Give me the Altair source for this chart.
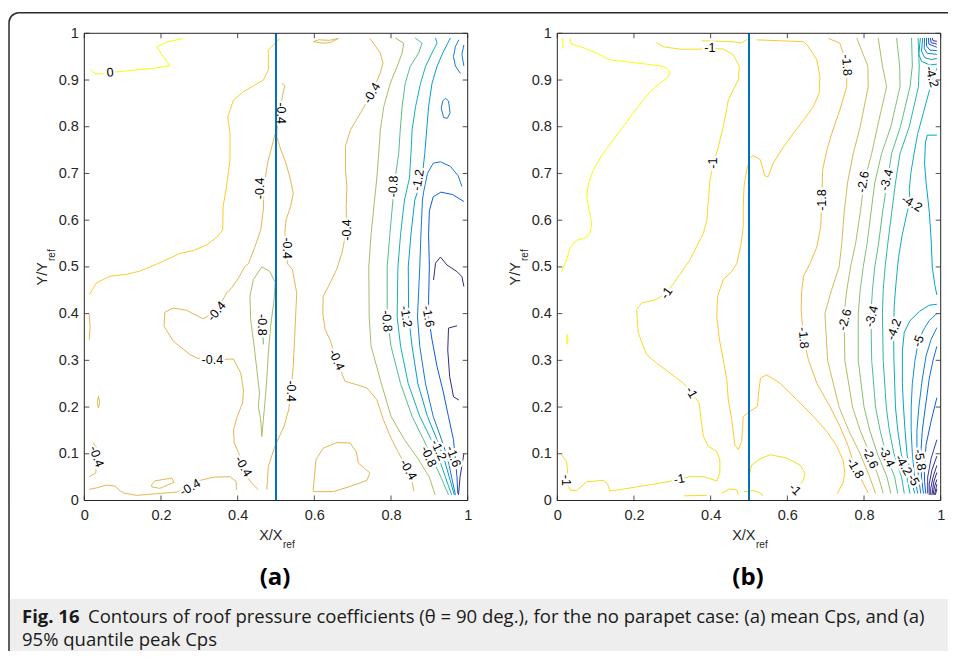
import altair as alt
import pandas as pd

# ---------------- layout (view pixels) ----------------
W, H = 940, 643
AXR = [76.3, 459.7]     # panel (a) x range
BXR = [549.3, 932.7]    # panel (b) x range
YR = [492.5, 25.3]      # y range (both panels)
TICK_FONT = "Liberation Sans"

# ---------------- parula colormap (style) ----------------
PARULA = [
    (0.2081, 0.1663, 0.5292), (0.2116, 0.1898, 0.5777), (0.2123, 0.2138, 0.6270), (0.2081, 0.2386, 0.6771),
    (0.1959, 0.2645, 0.7279), (0.1707, 0.2919, 0.7792), (0.1253, 0.3242, 0.8303), (0.0591, 0.3598, 0.8683),
    (0.0117, 0.3875, 0.8820), (0.0060, 0.4086, 0.8828), (0.0165, 0.4266, 0.8786), (0.0329, 0.4430, 0.8720),
    (0.0498, 0.4586, 0.8641), (0.0629, 0.4737, 0.8554), (0.0723, 0.4887, 0.8467), (0.0779, 0.5040, 0.8384),
    (0.0793, 0.5200, 0.8312), (0.0749, 0.5375, 0.8263), (0.0641, 0.5570, 0.8240), (0.0488, 0.5772, 0.8228),
    (0.0343, 0.5966, 0.8199), (0.0265, 0.6137, 0.8135), (0.0239, 0.6287, 0.8038), (0.0231, 0.6418, 0.7913),
    (0.0228, 0.6535, 0.7768), (0.0267, 0.6642, 0.7607), (0.0384, 0.6743, 0.7436), (0.0590, 0.6838, 0.7254),
    (0.0843, 0.6928, 0.7062), (0.1133, 0.7015, 0.6859), (0.1453, 0.7098, 0.6646), (0.1801, 0.7177, 0.6424),
    (0.2178, 0.7250, 0.6193), (0.2586, 0.7317, 0.5954), (0.3022, 0.7376, 0.5712), (0.3482, 0.7424, 0.5473),
    (0.3953, 0.7459, 0.5244), (0.4420, 0.7481, 0.5033), (0.4871, 0.7491, 0.4840), (0.5300, 0.7491, 0.4661),
    (0.5709, 0.7485, 0.4494), (0.6099, 0.7473, 0.4337), (0.6473, 0.7456, 0.4188), (0.6834, 0.7435, 0.4044),
    (0.7184, 0.7411, 0.3905), (0.7525, 0.7384, 0.3768), (0.7858, 0.7356, 0.3633), (0.8185, 0.7327, 0.3498),
    (0.8507, 0.7299, 0.3360), (0.8824, 0.7274, 0.3217), (0.9139, 0.7258, 0.3063), (0.9450, 0.7261, 0.2886),
    (0.9739, 0.7314, 0.2666), (0.9938, 0.7455, 0.2403), (0.9990, 0.7653, 0.2164), (0.9955, 0.7861, 0.1967),
    (0.9880, 0.8066, 0.1794), (0.9789, 0.8271, 0.1633), (0.9697, 0.8481, 0.1475), (0.9626, 0.8705, 0.1309),
    (0.9589, 0.8949, 0.1132), (0.9598, 0.9218, 0.0948), (0.9661, 0.9514, 0.0755), (0.9763, 0.9831, 0.0538),
]


def parula_hex(idx):
    idx = int(max(0, min(63, round(idx))))
    r, g, b = PARULA[idx]
    return "#%02x%02x%02x" % (int(r * 255), int(g * 255), int(b * 255))


def color_a(level):
    return parula_hex(63 + 35 * level)


def color_b(level):
    return parula_hex(63 - (-0.6 - level) / 0.4 * 4)


# ---------------- panel (a): mean Cp contours ----------------
A_ZERO = [(0.257, 0.989), (0.215, 0.981), (0.189, 0.971), (0.206, 0.950), (0.223, 0.931), (0.180, 0.925),
          (0.128, 0.921), (0.089, 0.918), (0.067, 0.916), (0.041, 0.913), (0.028, 0.913), (0.015, 0.923)]
A_M02 = [(0.013, 0.441), (0.032, 0.466), (0.067, 0.48), (0.11, 0.484), (0.145, 0.491), (0.189, 0.506),
         (0.25, 0.529), (0.284, 0.535), (0.319, 0.547), (0.345, 0.563), (0.361, 0.579), (0.362, 0.629),
         (0.371, 0.672), (0.38, 0.729), (0.38, 0.786), (0.374, 0.821), (0.389, 0.857), (0.415, 0.875),
         (0.467, 0.9), (0.48, 0.921), (0.48, 0.964), (0.51, 0.989)]
A_M04_C1 = [(0.515, 0.893), (0.523, 0.888), (0.519, 0.875), (0.515, 0.857), (0.513, 0.829), (0.503, 0.797),
            (0.502, 0.779), (0.510, 0.757), (0.526, 0.722), (0.538, 0.686), (0.545, 0.657), (0.538, 0.629),
            (0.526, 0.600), (0.523, 0.572), (0.528, 0.54), (0.530, 0.507), (0.543, 0.494), (0.554, 0.444),
            (0.550, 0.373), (0.545, 0.287), (0.539, 0.234), (0.533, 0.194), (0.521, 0.159), (0.497, 0.116),
            (0.480, 0.073), (0.476, 0.023)]
A_M04_C2 = [(0.498, 0.786), (0.489, 0.757), (0.478, 0.722), (0.468, 0.668), (0.467, 0.622), (0.46, 0.579),
            (0.445, 0.543), (0.428, 0.507), (0.419, 0.501), (0.402, 0.476), (0.384, 0.455), (0.371, 0.444),
            (0.345, 0.405), (0.31, 0.389), (0.267, 0.407), (0.232, 0.412), (0.21, 0.403), (0.208, 0.373),
            (0.232, 0.341), (0.276, 0.312), (0.297, 0.304), (0.334, 0.301), (0.389, 0.303), (0.408, 0.273),
            (0.415, 0.237), (0.413, 0.209), (0.399, 0.18), (0.389, 0.151), (0.391, 0.123), (0.402, 0.103),
            (0.415, 0.073), (0.432, 0.041), (0.454, 0.023)]
A_M04_E = [(0.745, 0.989), (0.772, 0.958), (0.779, 0.936), (0.772, 0.915), (0.75, 0.872), (0.72, 0.829),
           (0.694, 0.793), (0.681, 0.758), (0.681, 0.708), (0.685, 0.672), (0.683, 0.629), (0.684, 0.579),
           (0.672, 0.53), (0.658, 0.494), (0.637, 0.459), (0.623, 0.437), (0.622, 0.401), (0.628, 0.366),
           (0.641, 0.344), (0.658, 0.301), (0.68, 0.255), (0.71, 0.248), (0.737, 0.241), (0.763, 0.216),
           (0.78, 0.173), (0.802, 0.13), (0.819, 0.103), (0.845, 0.066), (0.855, 0.04), (0.86, 0.02)]
A_M04_F = [(0.597, 0.021), (0.604, 0.087), (0.623, 0.112), (0.658, 0.124), (0.693, 0.123), (0.709, 0.105),
           (0.715, 0.080), (0.745, 0.059), (0.737, 0.043), (0.693, 0.03), (0.65, 0.019), (0.597, 0.019)]
A_M04_G = [(0.598, 0.982), (0.62, 0.979), (0.641, 0.98), (0.663, 0.989), (0.64, 0.985), (0.61, 0.986), (0.598, 0.982)]
A_M04_BOT = [(0.013, 0.024), (0.032, 0.027), (0.058, 0.033), (0.08, 0.031), (0.093, 0.021), (0.103, 0.016),
             (0.137, 0.011), (0.18, 0.014), (0.241, 0.018), (0.276, 0.028), (0.302, 0.043), (0.337, 0.05),
             (0.38, 0.051), (0.396, 0.041), (0.397, 0.023)]
A_M04_LOOP = [(0.176, 0.034), (0.184, 0.042), (0.228, 0.048), (0.234, 0.039), (0.197, 0.026), (0.176, 0.029), (0.176, 0.034)]
A_M04_LEFT = [(0.013, 0.051), (0.03, 0.059), (0.032, 0.094), (0.03, 0.116), (0.023, 0.124)]
A_M04_DOT = [(0.037, 0.223), (0.04, 0.21), (0.037, 0.198), (0.034, 0.21), (0.037, 0.223)]
A_M04_EDGE = [(0.013, 0.398), (0.015, 0.37), (0.013, 0.344)]
A_M06_LEAF = [(0.463, 0.5), (0.483, 0.491), (0.498, 0.467), (0.495, 0.43), (0.486, 0.373), (0.48, 0.316),
              (0.476, 0.259), (0.471, 0.209), (0.467, 0.173), (0.463, 0.137), (0.46, 0.173), (0.454, 0.201),
              (0.457, 0.23), (0.45, 0.28), (0.443, 0.33), (0.434, 0.387), (0.432, 0.437), (0.441, 0.473), (0.463, 0.5)]
A_M08_TINY = [(0.465, 0.362), (0.467, 0.334)]

A_RIGHT_Y = [0.99, 0.979, 0.958, 0.929, 0.893, 0.843, 0.793, 0.743, 0.69, 0.643, 0.57, 0.5, 0.393, 0.33,
             0.25, 0.18, 0.13, 0.09, 0.05, 0.012]
A_M06_X = [0.811, 0.833, 0.829, 0.816, 0.798, 0.781, 0.772, 0.768, 0.763, 0.757, 0.748, 0.742, 0.743, 0.748,
           0.775, 0.80, 0.835, 0.87, 0.90, 0.915]
A_M08_X = [0.863, 0.881, 0.872, 0.85, 0.837, 0.829, 0.824, 0.82, 0.811, 0.805, 0.797, 0.79, 0.79, 0.80,
           0.825, 0.855, 0.885, 0.908, 0.93, 0.95]
A_M10_X = [0.916, 0.92, 0.907, 0.89, 0.877, 0.864, 0.855, 0.852, 0.848, 0.835, 0.825, 0.818, 0.816, 0.825,
           0.845, 0.875, 0.905, 0.925, 0.942, 0.958]
A_M12_X = [0.955, 0.948, 0.935, 0.92, 0.907, 0.898, 0.893, 0.888, 0.881, 0.862, 0.852, 0.845, 0.846, 0.855,
           0.87, 0.895, 0.92, 0.938, 0.952, 0.965]
A_M14 = [(0.985, 0.672), (0.975, 0.695), (0.955, 0.715), (0.929, 0.725), (0.91, 0.722), (0.895, 0.70),
         (0.885, 0.66), (0.882, 0.643), (0.878, 0.57), (0.875, 0.5), (0.869, 0.393), (0.875, 0.33), (0.89, 0.25),
         (0.91, 0.18), (0.932, 0.13), (0.948, 0.09), (0.958, 0.05), (0.968, 0.012)]
A_M14_LOOP = [(0.935, 0.855), (0.942, 0.861), (0.95, 0.855), (0.954, 0.83), (0.947, 0.818), (0.937, 0.82),
              (0.931, 0.84), (0.935, 0.855)]
A_M14_TOP = [(0.977, 0.986), (0.968, 0.972), (0.963, 0.950), (0.968, 0.93), (0.981, 0.914)]
A_M14_EDGE = [(0.99, 0.975), (0.985, 0.955), (0.99, 0.93)]
A_M16 = [(0.99, 0.64), (0.96, 0.655), (0.93, 0.66), (0.91, 0.65), (0.90, 0.62), (0.898, 0.57), (0.90, 0.5),
         (0.898, 0.43), (0.898, 0.393), (0.907, 0.344), (0.92, 0.287), (0.937, 0.23), (0.95, 0.179),
         (0.963, 0.13), (0.972, 0.051), (0.974, 0.015)]
A_M18_BUMP = [(0.911, 0.472), (0.916, 0.508), (0.929, 0.521), (0.946, 0.504), (0.972, 0.49), (0.985, 0.479), (0.99, 0.458)]
A_M18_BRACKET = [(0.972, 0.374), (0.950, 0.369), (0.948, 0.322), (0.953, 0.265), (0.963, 0.222), (0.977, 0.215)]
A_M18_CORNER = [(0.99, 0.1), (0.98, 0.05), (0.976, 0.012)]

A_CONTOURS = [
    (0.0, A_ZERO), (-0.2, A_M02),
    (-0.4, A_M04_C1), (-0.4, A_M04_C2), (-0.4, A_M04_E), (-0.4, A_M04_F), (-0.4, A_M04_G),
    (-0.4, A_M04_BOT), (-0.4, A_M04_LOOP), (-0.4, A_M04_LEFT), (-0.4, A_M04_DOT), (-0.4, A_M04_EDGE),
    (-0.6, A_M06_LEAF), (-0.8, A_M08_TINY),
    (-0.6, list(zip(A_M06_X, A_RIGHT_Y))), (-0.8, list(zip(A_M08_X, A_RIGHT_Y))),
    (-1.0, list(zip(A_M10_X, A_RIGHT_Y))), (-1.2, list(zip(A_M12_X, A_RIGHT_Y))),
    (-1.4, A_M14), (-1.4, A_M14_LOOP), (-1.4, A_M14_TOP), (-1.4, A_M14_EDGE),
    (-1.6, A_M16), (-1.8, A_M18_BUMP), (-1.8, A_M18_BRACKET), (-1.8, A_M18_CORNER),
]

A_LABEL_TEXT = ["0", "-0.4", "-0.4", "-0.4", "-0.4", "-0.4", "-0.8", "-1.2", "-0.4", "-0.8", "-0.4", "-0.4",
                "-0.4", "-0.8", "-1.2", "-1.6", "-0.4", "-0.4", "-0.4", "-0.4", "-0.8", "-1.2", "-1.6"]
A_LABEL_X = [0.067, 0.513, 0.458, 0.528, 0.75, 0.684, 0.806, 0.871, 0.345, 0.463, 0.334, 0.539,
             0.658, 0.789, 0.839, 0.897, 0.032, 0.415, 0.276, 0.845, 0.898, 0.924, 0.963]
A_LABEL_Y = [0.916, 0.829, 0.668, 0.540, 0.872, 0.579, 0.672, 0.686, 0.405, 0.376, 0.301, 0.234,
             0.301, 0.384, 0.394, 0.394, 0.094, 0.073, 0.028, 0.066, 0.094, 0.108, 0.094]
A_LABEL_ANGLE = [-5, 90, -90, 90, -60, -90, -88, -80, -50, 90, 0, 90,
                 65, 85, 80, 80, 70, 60, -30, 60, 65, 65, 70]

# ---------------- panel (b): 95% quantile peak Cp contours ----------------
B_M06 = [(0.011, 0.49), (0.024, 0.515), (0.033, 0.54), (0.05, 0.557), (0.072, 0.561), (0.085, 0.572),
         (0.09, 0.593), (0.085, 0.615), (0.077, 0.647), (0.081, 0.679), (0.098, 0.714), (0.12, 0.743),
         (0.146, 0.772), (0.172, 0.8), (0.198, 0.829), (0.224, 0.857), (0.242, 0.875), (0.268, 0.893),
         (0.29, 0.907), (0.294, 0.918), (0.277, 0.929), (0.233, 0.934), (0.181, 0.939), (0.137, 0.943),
         (0.103, 0.957), (0.072, 0.968), (0.036, 0.977), (0.033, 0.989)]
B_M06_EDGE = [(0.014, 0.99), (0.015, 0.975), (0.013, 0.967)]
B_M06_DOT = [(0.026, 0.355), (0.028, 0.345), (0.026, 0.335), (0.024, 0.345), (0.026, 0.355)]
B_M10 = [(0.011, 0.098), (0.024, 0.084), (0.027, 0.066), (0.025, 0.043), (0.033, 0.023), (0.05, 0.021),
         (0.077, 0.04), (0.12, 0.043), (0.131, 0.036), (0.137, 0.02), (0.207, 0.029), (0.259, 0.036),
         (0.294, 0.041), (0.318, 0.046), (0.346, 0.051), (0.381, 0.051), (0.416, 0.042), (0.424, 0.059),
         (0.424, 0.087), (0.416, 0.105), (0.394, 0.116), (0.381, 0.137), (0.374, 0.18), (0.37, 0.209),
         (0.35, 0.231), (0.329, 0.251), (0.294, 0.273), (0.259, 0.294), (0.233, 0.312), (0.211, 0.359),
         (0.207, 0.409), (0.22, 0.423), (0.255, 0.429), (0.285, 0.444), (0.307, 0.469), (0.329, 0.495),
         (0.346, 0.515), (0.363, 0.543), (0.381, 0.572), (0.39, 0.6), (0.394, 0.643), (0.398, 0.686),
         (0.407, 0.722), (0.42, 0.757), (0.433, 0.8), (0.446, 0.857), (0.459, 0.879), (0.472, 0.9),
         (0.475, 0.929), (0.459, 0.954), (0.433, 0.966), (0.398, 0.968), (0.372, 0.966), (0.32, 0.966),
         (0.277, 0.971), (0.259, 0.98)]
B_M10_TOP = [(0.377, 0.984), (0.42, 0.983), (0.46, 0.982), (0.48, 0.979), (0.495, 0.987)]
B_M10_LOOP = [(0.501, 0.055), (0.507, 0.076), (0.529, 0.089), (0.555, 0.098), (0.598, 0.091), (0.633, 0.076),
              (0.646, 0.059), (0.642, 0.044), (0.635, 0.036)]
B_M10_BOT1 = [(0.33, 0.01), (0.39, 0.011)]
B_M10_BOT2 = [(0.43, 0.016), (0.45, 0.025), (0.468, 0.023), (0.472, 0.012)]
B_M10_BOT3 = [(0.487, 0.019), (0.513, 0.021), (0.53, 0.016), (0.537, 0.009)]
B_M14 = [(0.52, 0.986), (0.581, 0.984), (0.642, 0.982), (0.652, 0.975), (0.677, 0.943), (0.685, 0.907),
         (0.683, 0.872), (0.668, 0.843), (0.642, 0.814), (0.616, 0.786), (0.59, 0.757), (0.563, 0.722),
         (0.55, 0.693), (0.541, 0.695), (0.536, 0.711), (0.529, 0.73), (0.511, 0.738), (0.503, 0.734),
         (0.494, 0.707), (0.487, 0.672), (0.485, 0.629), (0.485, 0.586), (0.478, 0.543), (0.468, 0.507),
         (0.455, 0.49), (0.433, 0.473), (0.418, 0.437), (0.416, 0.394), (0.423, 0.344), (0.433, 0.301),
         (0.442, 0.259), (0.446, 0.216), (0.455, 0.173), (0.463, 0.119), (0.472, 0.109), (0.481, 0.126),
         (0.485, 0.18), (0.503, 0.191), (0.522, 0.201), (0.525, 0.23), (0.53, 0.262), (0.546, 0.269),
         (0.581, 0.251), (0.624, 0.216), (0.668, 0.18), (0.703, 0.148), (0.729, 0.116), (0.745, 0.087),
         (0.75, 0.06), (0.745, 0.037), (0.73, 0.015)]
B_M18 = [(0.707, 0.989), (0.737, 0.979), (0.755, 0.932), (0.755, 0.886), (0.737, 0.836), (0.716, 0.786),
         (0.703, 0.75), (0.692, 0.707), (0.69, 0.643), (0.687, 0.586), (0.677, 0.543), (0.659, 0.507),
         (0.642, 0.48), (0.637, 0.444), (0.636, 0.409), (0.642, 0.348), (0.655, 0.301), (0.677, 0.251),
         (0.711, 0.201), (0.737, 0.159), (0.759, 0.116), (0.777, 0.069), (0.798, 0.037), (0.811, 0.016)]

B_RIGHT_Y = [0.99, 0.93, 0.886, 0.80, 0.743, 0.68, 0.615, 0.55, 0.5, 0.45, 0.4, 0.3, 0.2, 0.15, 0.1, 0.05, 0.015]
B_M22_X = [0.781, 0.81, 0.811, 0.79, 0.772, 0.757, 0.748, 0.742, 0.735, 0.715, 0.698, 0.705, 0.735, 0.76, 0.79, 0.815, 0.83]
B_M26_X = [0.837, 0.848, 0.859, 0.835, 0.82, 0.80, 0.79, 0.778, 0.765, 0.755, 0.748, 0.75, 0.77, 0.79, 0.815, 0.838, 0.85]
B_M30_X = [0.885, 0.893, 0.894, 0.87, 0.846, 0.828, 0.818, 0.808, 0.798, 0.79, 0.785, 0.785, 0.80, 0.815, 0.835, 0.86, 0.87]
B_M34_X = [0.924, 0.926, 0.92, 0.895, 0.872, 0.86, 0.848, 0.838, 0.828, 0.822, 0.818, 0.82, 0.83, 0.842, 0.857, 0.88, 0.888]
B_M38_X = [0.941, 0.944, 0.942, 0.918, 0.894, 0.882, 0.872, 0.862, 0.855, 0.85, 0.848, 0.85, 0.858, 0.866, 0.878, 0.898, 0.905]
B_M42 = [(0.99, 0.925), (0.978, 0.9), (0.968, 0.87), (0.955, 0.83), (0.94, 0.785), (0.93, 0.74), (0.922, 0.7),
         (0.918, 0.665), (0.92, 0.64), (0.912, 0.615), (0.90, 0.57), (0.89, 0.52), (0.884, 0.47), (0.879, 0.42),
         (0.877, 0.37), (0.878, 0.3), (0.882, 0.2), (0.888, 0.15), (0.897, 0.1), (0.912, 0.05), (0.92, 0.015)]
B_M46_BRACKET = [(0.99, 0.782), (0.965, 0.782), (0.96, 0.765), (0.958, 0.72), (0.962, 0.68), (0.97, 0.62),
                 (0.975, 0.56), (0.978, 0.5), (0.985, 0.46), (0.99, 0.44)]
B_M46 = [(0.99, 0.42), (0.97, 0.418), (0.945, 0.405), (0.92, 0.385), (0.905, 0.36), (0.9, 0.32), (0.9, 0.25),
         (0.903, 0.2), (0.907, 0.15), (0.912, 0.1), (0.922, 0.05), (0.932, 0.015)]
B_M50 = [(0.99, 0.40), (0.97, 0.385), (0.955, 0.365), (0.942, 0.341), (0.933, 0.3), (0.926, 0.25), (0.923, 0.2),
         (0.923, 0.15), (0.926, 0.1), (0.932, 0.05), (0.94, 0.015)]
B_M54 = [(0.99, 0.37), (0.975, 0.345), (0.962, 0.31), (0.952, 0.26), (0.943, 0.2), (0.938, 0.15), (0.938, 0.1),
         (0.942, 0.05), (0.948, 0.015)]
B_M58 = [(0.99, 0.33), (0.98, 0.3), (0.97, 0.26), (0.96, 0.2), (0.952, 0.15), (0.948, 0.1), (0.95, 0.05), (0.955, 0.015)]
B_M62 = [(0.99, 0.22), (0.975, 0.17), (0.962, 0.12), (0.957, 0.07), (0.958, 0.04), (0.961, 0.015)]
B_M66 = [(0.99, 0.13), (0.975, 0.09), (0.966, 0.05), (0.966, 0.015)]
B_M70 = [(0.99, 0.095), (0.977, 0.065), (0.97, 0.035), (0.97, 0.012)]
B_M74 = [(0.99, 0.075), (0.98, 0.05), (0.974, 0.025), (0.974, 0.012)]
B_M78 = [(0.99, 0.06), (0.982, 0.04), (0.977, 0.012)]
B_M82 = [(0.99, 0.045), (0.984, 0.03), (0.98, 0.012)]
B_M86 = [(0.99, 0.035), (0.986, 0.02), (0.983, 0.012)]
B_M90 = [(0.99, 0.025), (0.986, 0.012)]
B_TOP46 = [(0.947, 0.99), (0.943, 0.955), (0.95, 0.94), (0.972, 0.932), (0.99, 0.934)]
B_TOP50 = [(0.953, 0.99), (0.95, 0.962), (0.958, 0.948), (0.975, 0.944), (0.99, 0.946)]
B_TOP54 = [(0.958, 0.99), (0.957, 0.968), (0.965, 0.957), (0.99, 0.955)]
B_TOP58 = [(0.963, 0.99), (0.963, 0.973), (0.972, 0.964), (0.99, 0.963)]
B_TOP62 = [(0.968, 0.99), (0.969, 0.977), (0.99, 0.97)]
B_TOP66 = [(0.973, 0.99), (0.975, 0.98), (0.99, 0.977)]
B_TOP70 = [(0.978, 0.99), (0.98, 0.984), (0.99, 0.983)]

B_CONTOURS = [
    (-0.6, B_M06), (-0.6, B_M06_EDGE), (-0.6, B_M06_DOT),
    (-1.0, B_M10), (-1.0, B_M10_TOP), (-1.0, B_M10_LOOP), (-1.0, B_M10_BOT1), (-1.0, B_M10_BOT2), (-1.0, B_M10_BOT3),
    (-1.4, B_M14), (-1.8, B_M18),
    (-2.2, list(zip(B_M22_X, B_RIGHT_Y))), (-2.6, list(zip(B_M26_X, B_RIGHT_Y))),
    (-3.0, list(zip(B_M30_X, B_RIGHT_Y))), (-3.4, list(zip(B_M34_X, B_RIGHT_Y))),
    (-3.8, list(zip(B_M38_X, B_RIGHT_Y))), (-4.2, B_M42),
    (-4.6, B_M46_BRACKET), (-4.6, B_M46), (-5.0, B_M50), (-5.4, B_M54), (-5.8, B_M58), (-6.2, B_M62),
    (-6.6, B_M66), (-7.0, B_M70), (-7.4, B_M74), (-7.8, B_M78), (-8.2, B_M82), (-8.6, B_M86), (-9.0, B_M90),
    (-4.6, B_TOP46), (-5.0, B_TOP50), (-5.4, B_TOP54), (-5.8, B_TOP58), (-6.2, B_TOP62), (-6.6, B_TOP66), (-7.0, B_TOP70),
]

B_LABEL_TEXT = ["-1", "-1", "-1", "-1", "-1", "-1", "-1", "-1.8", "-1.8", "-1.8", "-1.8", "-2.6", "-2.6", "-2.6",
                "-3.4", "-3.4", "-3.4", "-4.2", "-4.2", "-4.2", "-4.2", "-5", "-5", "-5.8"]
B_LABEL_X = [0.398, 0.407, 0.285, 0.35, 0.318, 0.022, 0.62, 0.755, 0.69, 0.642, 0.777, 0.798, 0.75, 0.816,
             0.859, 0.82, 0.859, 0.925, 0.878, 0.977, 0.903, 0.942, 0.929, 0.946]
B_LABEL_Y = [0.968, 0.722, 0.444, 0.231, 0.046, 0.043, 0.024, 0.932, 0.643, 0.348, 0.069, 0.682, 0.387, 0.091,
             0.686, 0.394, 0.094, 0.636, 0.366, 0.907, 0.076, 0.341, 0.044, 0.087]
B_LABEL_ANGLE = [0, -90, -55, 60, -10, 90, 45, 85, -90, 85, 60, -80, -75, 65,
                 -75, -75, 65, 30, -70, 75, 60, -70, 60, 80]

X_TICKS = [0, 0.2, 0.4, 0.6, 0.8, 1]
Y_TICKS = [0, 0.1, 0.2, 0.3, 0.4, 0.5, 0.6, 0.7, 0.8, 0.9, 1]


# ---------------- build tables ----------------
def line_table(panel, contours, colorfn):
    rows = []
    for cid, (lvl, pts) in enumerate(contours):
        for i, (x, y) in enumerate(pts):
            rows.append(dict(cid=f"{panel}{cid}", lvl=lvl, i=i, x=x, y=y, col=colorfn(lvl)))
    return pd.DataFrame(rows)


def label_table(texts, xs, ys, angles):
    return pd.DataFrame(dict(t=texts, x=xs, y=ys, ang=[a % 360 for a in angles]))


def tick_table(xlen, ylen):
    rows = []
    for v in X_TICKS:
        rows.append(dict(x=v, x2=v, y=0, y2=ylen))
        rows.append(dict(x=v, x2=v, y=1, y2=1 - ylen))
    for v in Y_TICKS:
        rows.append(dict(x=0, x2=xlen, y=v, y2=v))
        rows.append(dict(x=1, x2=1 - xlen, y=v, y2=v))
    return pd.DataFrame(rows)


def panel(lines_df, labels_df, xr):
    xs = alt.Scale(domain=[0, 1], range=xr, nice=False, zero=False)
    ys = alt.Scale(domain=[0, 1], range=YR, nice=False, zero=False)
    common = dict(grid=False, domain=False, ticks=False, labelFont=TICK_FONT, labelFontSize=14.5,
                  labelColor="#262626", labelFlush=False, labelOverlap=False, title=None, format=".1~f")
    xaxis = alt.Axis(orient="bottom", offset=-(H - YR[0]), values=X_TICKS, labelPadding=8, **common)
    yaxis = alt.Axis(orient="left", offset=-xr[0], values=Y_TICKS, labelPadding=6, **common)

    def X(f="x"):
        return alt.X(f"{f}:Q", scale=xs, axis=xaxis)

    def Y(f="y"):
        return alt.Y(f"{f}:Q", scale=ys, axis=yaxis)

    lines = alt.Chart(lines_df).mark_line(strokeWidth=1).encode(
        x=X(), y=Y(), detail="cid:N", order="i:Q", color=alt.Color("col:N", scale=None))
    halo = alt.Chart(labels_df).mark_text(font=TICK_FONT, fontSize=12.5, stroke="white", strokeWidth=5,
                                          fill="white", strokeJoin="round", align="center", baseline="middle").encode(
        x=X(), y=Y(), text="t:N", angle=alt.Angle("ang:Q", scale=None))
    text = alt.Chart(labels_df).mark_text(font=TICK_FONT, fontSize=12.5, color="black",
                                          align="center", baseline="middle").encode(
        x=X(), y=Y(), text="t:N", angle=alt.Angle("ang:Q", scale=None))
    blue = alt.Chart(pd.DataFrame(dict(x=[0.5], y=[0.0], y2=[1.0]))).mark_rule(
        color="#0072bd", strokeWidth=2).encode(x=X(), y=Y(), y2="y2:Q")
    box = alt.Chart(pd.DataFrame(dict(x=[0.0], x2=[1.0], y=[0.0], y2=[1.0]))).mark_rect(
        fill="transparent", stroke="#262626", strokeWidth=1).encode(x=X(), x2="x2:Q", y=Y(), y2="y2:Q")
    ticks = alt.Chart(tick_table(5 / abs(xr[1] - xr[0]), 5 / abs(YR[0] - YR[1]))).mark_rule(
        color="#262626", strokeWidth=0.8).encode(x=X(), x2="x2:Q", y=Y(), y2="y2:Q")
    return alt.layer(lines, halo, blue, text, box, ticks)


panel_a = panel(line_table("a", A_CONTOURS, color_a),
                label_table(A_LABEL_TEXT, A_LABEL_X, A_LABEL_Y, A_LABEL_ANGLE), AXR)
panel_b = panel(line_table("b", B_CONTOURS, color_b),
                label_table(B_LABEL_TEXT, B_LABEL_X, B_LABEL_Y, B_LABEL_ANGLE), BXR)

# ---------------- decorations ----------------
one = pd.DataFrame({"k": [0]})


def txt(s, x, y, size, weight="normal", align="center", angle=0, font=TICK_FONT, color="#262626"):
    kw = dict(text=s, fontSize=size, fontWeight=weight, align=align, baseline="middle", font=font, color=color)
    if angle:
        kw["angle"] = angle % 360
    return alt.Chart(one).mark_text(**kw).encode(x=alt.value(x), y=alt.value(y))


caption_bg = alt.Chart(one).mark_rect(fill="#eeeeee").encode(
    x=alt.value(2), x2=alt.value(W), y=alt.value(591), y2=alt.value(H))
frame = alt.Chart(one).mark_rect(fill="transparent", stroke="#2b2b2b", strokeWidth=1.5, cornerRadius=10).encode(
    x=alt.value(1), x2=alt.value(W + 40), y=alt.value(4.7), y2=alt.value(H + 40))

CAP_FONT = "Open Sans"
CAP_SIZE = 18.5
decor = [
    caption_bg, frame,
    txt("X/X", 274.5, 528, 14.5, align="right"), txt("ref", 275, 537, 10, align="left"),
    txt("X/X", 747.5, 528, 14.5, align="right"), txt("ref", 748, 537, 10, align="left"),
    txt("Y/Y", 34.5, 254, 14.5, align="right", angle=-90), txt("ref", 44, 253, 10, align="left", angle=-90),
    txt("Y/Y", 507.5, 254, 14.5, align="right", angle=-90), txt("ref", 517, 253, 10, align="left", angle=-90),
    txt("(a)", 267, 570, 24, weight="bold", font=CAP_FONT, color="black"),
    txt("(b)", 740, 570, 24, weight="bold", font=CAP_FONT, color="black"),
    txt("Fig. 16", 14, 609, CAP_SIZE, weight="bold", align="left", font=CAP_FONT, color="#1a1a1a"),
    txt("Contours of roof pressure coefficients (θ = 90 deg.), for the no parapet case: (a) mean Cps, and (a)",
        80, 609, CAP_SIZE, align="left", font=CAP_FONT, color="#1a1a1a"),
    txt("95% quantile peak Cps", 14, 632, CAP_SIZE, align="left", font=CAP_FONT, color="#1a1a1a"),
]

chart = alt.layer(*decor, panel_a, panel_b).resolve_scale(
    x="independent", y="independent").properties(
    width=W, height=H, autosize=alt.AutoSizeParams(type="none"), padding=0
).configure_view(stroke="transparent")

chart.save("out.html", embed_options={"renderer": "svg", "actions": False})
